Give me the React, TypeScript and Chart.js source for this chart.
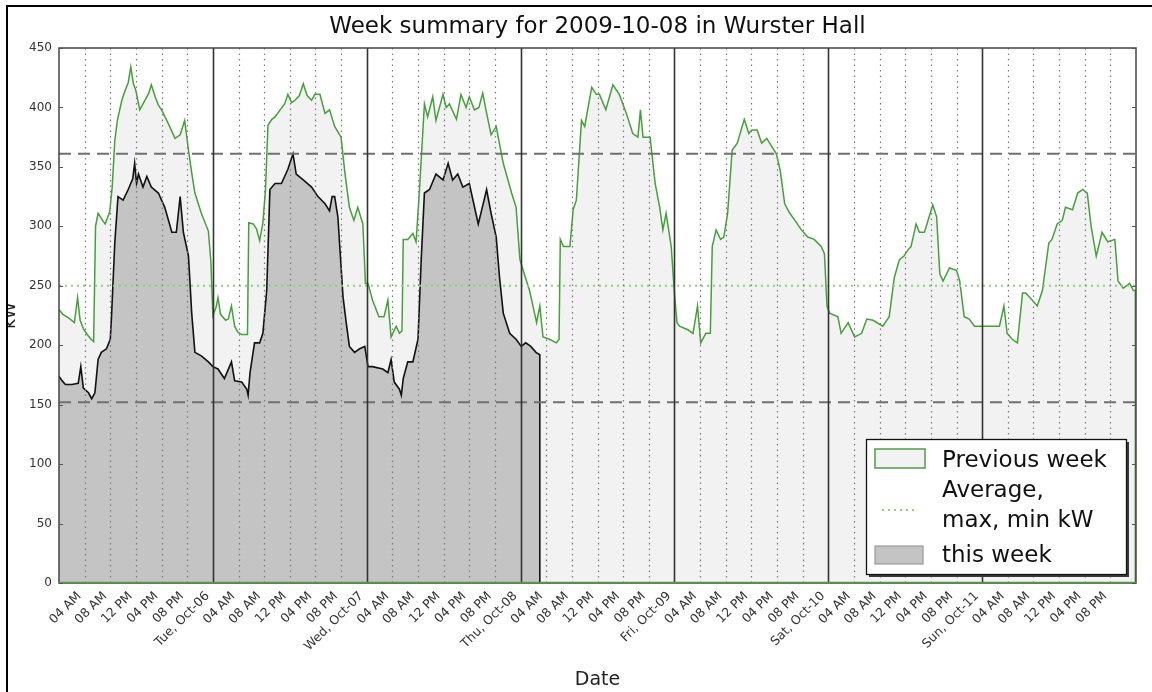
import React, { useEffect, useRef } from 'react';
import { Chart, registerables } from 'chart.js';

Chart.register(...registerables);

type Row = [number, number];

const chartTitle = 'Week summary for 2009-10-08 in Wurster Hall';
const xAxisTitle = 'Date';
const yAxisTitle = 'kW';
const seriesLabels = ['Previous week', 'Average,\nmax, min kW', 'this week'];

const weekHours = 168;
const tickStepHours = 4;
const hourTickLabels = ['04 AM', '08 AM', '12 PM', '04 PM', '08 PM'];
const dayTickLabels = ['', 'Tue, Oct-06', 'Wed, Oct-07', 'Thu, Oct-08', 'Fri, Oct-09', 'Sat, Oct-10', 'Sun, Oct-11', ''];
const yMax = 450;
const yStep = 50;

const avgKw = 250;
const maxKw = 361;
const minKw = 152;

// [hours since Mon 00:00, kW] — previous week
const prevMon: Row[] = [[0,230],[0.6,226],[1.5,223],[2.4,219],[2.9,240],[3.3,221],[3.8,214],[4.4,209],[5,205],[5.4,203],[5.7,300],[6.1,311],[6.8,305],[7.2,302],[7.9,312],[8.3,333],[8.7,372],[9.1,389],[9.8,406],[10.3,414],[10.8,421],[11.2,434],[11.6,420],[12,414],[12.6,398],[13.4,406],[14,412],[14.4,419],[15,409],[15.5,402],[16,398],[17,387],[18.1,374],[18.9,377],[19.6,389],[20.2,364],[20.7,345],[21.2,328],[22.2,311],[23.3,296],[23.7,270],[24,225]];
const prevTue: Row[] = [[24.5,232],[24.8,240],[25.2,226],[26,221],[26.4,222],[26.9,233],[27.4,216],[27.9,211],[28.5,209],[29.4,209],[29.6,303],[30.3,302],[30.8,298],[31.3,288],[31.8,303],[32.2,330],[32.6,385],[33.2,390],[33.7,392],[34.5,398],[35.2,403],[35.7,411],[36.3,404],[36.8,406],[37.5,410],[38.1,420],[38.7,410],[39.4,406],[39.9,411],[40.7,411],[41.5,395],[42.2,398],[43,384],[44,375],[44.6,345],[45.3,316],[46,305],[46.6,316],[47.4,302],[47.8,252]];
const prevWed: Row[] = [[48.2,252],[48.9,238],[49.9,224],[50.7,224],[51.3,238],[51.8,207],[52.6,216],[53.1,210],[53.5,212],[53.7,289],[54.4,289],[55.2,294],[55.7,287],[56.2,328],[57,403],[57.5,392],[58.3,409],[58.8,389],[59.9,411],[60.4,400],[60.9,403],[62,390],[62.7,411],[63.5,400],[64,409],[64.8,398],[65.5,400],[66.1,412],[66.6,398],[67.4,377],[68.2,384],[69.3,353],[70.6,328],[71.3,316],[71.9,272]];
const prevThu: Row[] = [[72.4,263],[73.4,246],[74.5,219],[75,233],[75.5,207],[76.5,205],[77.6,202],[78,205],[78.2,289],[78.7,283],[79.7,283],[80.2,314],[80.7,322],[81.5,389],[82,384],[83.1,417],[83.8,411],[84.3,411],[85.3,398],[86.4,419],[87.4,411],[88.5,395],[89.5,378],[90.3,375],[90.7,398],[91.1,375],[92.2,375],[93,336],[93.7,316],[94.2,297],[94.7,311],[95.5,283],[96,244]];
const prevFri: Row[] = [[96.4,219],[96.8,216],[98.1,213],[98.9,210],[99.6,233],[100.1,202],[100.9,210],[101.6,210],[101.9,283],[102.5,297],[103.2,289],[103.7,291],[104.3,311],[105,364],[105.8,370],[106.9,390],[107.6,378],[108.1,381],[108.9,381],[109.6,370],[110.4,374],[111.2,367],[111.9,361],[112.5,347],[113.2,319],[114,311],[114.8,305],[115.8,297],[116.8,291],[117.8,289],[118.9,283],[119.4,277],[119.8,233]];
const prevSat: Row[] = [[120.2,227],[121.5,224],[122,210],[123.1,219],[124.1,207],[125.2,210],[126,222],[127,221],[128.5,216],[129.5,224],[130.3,257],[131.1,272],[131.8,275],[132.4,280],[132.9,283],[133.7,302],[134.2,295],[135,295],[135.9,311],[136.3,318],[136.9,308],[137.4,260],[137.9,254],[138.9,265],[140,263],[140.5,254],[141.2,224],[142,222],[142.8,216],[144,216]];
const prevSun: Row[] = [[146.7,216],[147.4,233],[147.9,210],[148.7,205],[149.5,202],[150.3,244],[150.8,244],[151.8,238],[152.6,233],[153.4,246],[154.4,286],[154.9,289],[155.7,302],[156.5,305],[157,316],[158.1,314],[158.9,328],[159.7,331],[160.4,328],[161,300],[161.8,275],[162.7,295],[163.6,287],[164.7,289],[165.2,254],[166,248],[167,252],[167.6,246],[167.9,246]];

// [hours since Mon 00:00, kW] — this week
const thisMon: Row[] = [[0,174],[0.5,170],[1,167],[2,167],[3,168],[3.4,182],[3.8,164],[4.6,160],[5.1,155],[5.6,160],[6.1,188],[6.6,194],[7.4,197],[8,205],[8.2,225],[8.7,286],[9.2,325],[10,322],[10.8,331],[11.5,340],[11.8,353],[12.1,336],[12.4,344],[13.1,333],[13.7,342],[14.4,333],[15.5,328],[16.5,316],[17.6,295],[18.3,295],[18.9,325],[19.4,295],[20.2,275],[20.7,227],[21.2,194],[22.2,191],[23.3,186],[24,182]];
const thisTue: Row[] = [[24.8,180],[25.8,172],[26.9,186],[27.4,170],[28.5,169],[29.3,163],[29.5,158],[29.8,177],[30.5,202],[31.3,202],[31.8,210],[32.4,246],[32.9,331],[33.7,336],[34.7,336],[35.7,348],[36.5,361],[37,344],[38.1,339],[39.4,333],[40.4,325],[41.5,319],[42.2,313],[42.6,325],[43,325],[43.5,308],[44.3,241],[44.8,219],[45.3,199],[46.1,194],[46.9,197],[47.7,199],[48.2,182]];
const thisWed: Row[] = [[48.9,182],[50.5,180],[51.3,177],[51.8,188],[52.3,169],[53.1,163],[53.4,158],[53.7,172],[54.4,186],[55.2,186],[56,205],[56.5,272],[57,328],[57.8,331],[58.8,344],[59.9,339],[60.7,353],[61.4,339],[62.2,344],[63,333],[64,336],[65.4,302],[65.9,313],[66.7,331],[67.4,311],[68.2,291],[68.7,258],[69.3,227],[70.3,210],[71.3,205],[72.1,199]];
const thisThu: Row[] = [[72.8,202],[73.6,199],[74.4,194],[75,192]];

const FONT = '"DejaVu Sans", "Liberation Sans", sans-serif';

const xTickHours: number[] = [];
for (let h = 0; h <= weekHours; h += tickStepHours) xTickHours.push(h);

function xTickLabel(h: number): string {
  if (h % 24 === 0) return dayTickLabels[h / 24] || '';
  return hourTickLabels[(h % 24) / tickStepHours - 1] || '';
}

// polygon closed down to zero at the last sample, as the fill in the original
function closedPoints(rows: Row[]) {
  const pts = rows.map(([h, v]) => ({ x: h, y: v }));
  pts.push({ x: rows[rows.length - 1][0], y: 0 });
  return pts;
}

function flatLine(v: number) {
  return [{ x: 0, y: v }, { x: weekHours, y: v }];
}

const decorPlugin = {
  id: 'decor',
  afterDraw(chart: any) {
    const { ctx, chartArea: a } = chart;
    const x = chart.scales.x;
    const y = chart.scales.y;
    ctx.save();

    // vertical grid: dotted every 4 h, solid at midnight
    for (const t of x.ticks) {
      if (t.value <= x.min || t.value >= x.max) continue;
      const px = Math.round(x.getPixelForValue(t.value)) + 0.5;
      const day = t.value % 24 === 0;
      ctx.beginPath();
      ctx.setLineDash(day ? [] : [1.5, 4]);
      ctx.lineWidth = day ? 1.6 : 1.2;
      ctx.strokeStyle = day ? '#333' : '#7a7a7a';
      ctx.moveTo(px, a.top);
      ctx.lineTo(px, a.bottom);
      ctx.stroke();
    }
    ctx.setLineDash([]);

    // axes frame
    ctx.strokeStyle = '#444';
    ctx.lineWidth = 1.5;
    ctx.strokeRect(a.left, a.top, a.right - a.left, a.bottom - a.top);
    ctx.beginPath();
    ctx.strokeStyle = '#4f9a45';
    ctx.moveTo(a.left, a.bottom - 0.5);
    ctx.lineTo(a.right, a.bottom - 0.5);
    ctx.stroke();

    // inward y tick marks on both sides
    ctx.strokeStyle = '#555';
    ctx.lineWidth = 1;
    for (const t of y.ticks) {
      const py = Math.round(y.getPixelForValue(t.value)) + 0.5;
      ctx.beginPath();
      ctx.moveTo(a.left, py); ctx.lineTo(a.left + 4, py);
      ctx.moveTo(a.right - 4, py); ctx.lineTo(a.right, py);
      ctx.stroke();
    }

    // rotated x tick labels
    ctx.font = `12.5px ${FONT}`;
    ctx.fillStyle = '#333';
    ctx.textAlign = 'right';
    ctx.textBaseline = 'alphabetic';
    for (const t of x.ticks) {
      const label = xTickLabel(t.value);
      if (!label) continue;
      const px = x.getPixelForValue(t.value);
      ctx.save();
      ctx.translate(px - 3, a.bottom + 13.5);
      ctx.rotate(-Math.PI / 4);
      ctx.fillText(label, 0, 0);
      ctx.restore();
    }

    // title centred over the axes
    ctx.font = `23px ${FONT}`;
    ctx.fillStyle = '#111';
    ctx.textAlign = 'center';
    ctx.fillText(chartTitle, (a.left + a.right) / 2, a.top - 15);

    // legend with shadow
    const lw = 260, lh = 135;
    const lx = a.right - 10 - lw, ly = a.bottom - 9 - lh;
    ctx.fillStyle = '#3a3a3a';
    ctx.fillRect(lx + 3, ly + 3, lw, lh);
    ctx.fillStyle = '#fff';
    ctx.fillRect(lx, ly, lw, lh);
    ctx.strokeStyle = '#111';
    ctx.lineWidth = 1.3;
    ctx.strokeRect(lx + 0.5, ly + 0.5, lw, lh);

    ctx.fillStyle = '#f2f2f2';
    ctx.fillRect(lx + 9, ly + 10, 50, 19);
    ctx.strokeStyle = '#4f9a45';
    ctx.lineWidth = 1.5;
    ctx.strokeRect(lx + 9, ly + 10, 50, 19);

    ctx.beginPath();
    ctx.setLineDash([2, 4]);
    ctx.strokeStyle = '#8fcf80';
    ctx.lineWidth = 2;
    ctx.moveTo(lx + 16, ly + 71);
    ctx.lineTo(lx + 52, ly + 71);
    ctx.stroke();
    ctx.setLineDash([]);

    ctx.fillStyle = '#c4c4c4';
    ctx.fillRect(lx + 9, ly + 107, 48, 18);
    ctx.strokeStyle = '#9a9a9a';
    ctx.lineWidth = 1.2;
    ctx.strokeRect(lx + 9, ly + 107, 48, 18);

    ctx.font = `23px ${FONT}`;
    ctx.fillStyle = '#111';
    ctx.textAlign = 'left';
    const tx = lx + 76;
    ctx.fillText(seriesLabels[0], tx, ly + 27.7);
    const avgLines = seriesLabels[1].split('\n');
    ctx.fillText(avgLines[0], tx, ly + 58.3);
    ctx.fillText(avgLines[1], tx, ly + 88.3);
    ctx.fillText(seriesLabels[2], tx, ly + 122.7);

    ctx.restore();
  },
};

export default function App() {
  const ref = useRef<HTMLCanvasElement | null>(null);

  useEffect(() => {
    if (!ref.current) return;
    const prevWeek = [...prevMon, ...prevTue, ...prevWed, ...prevThu, ...prevFri, ...prevSat, ...prevSun];
    const thisWeek = [...thisMon, ...thisTue, ...thisWed, ...thisThu];

    const chart = new Chart(ref.current, {
      type: 'line',
      data: {
        datasets: [
          {
            label: seriesLabels[0],
            data: closedPoints(prevWeek),
            borderColor: '#45a03a',
            borderWidth: 1.5,
            backgroundColor: '#f2f2f2',
            fill: 'origin',
            pointRadius: 0,
            tension: 0,
            order: 10,
          },
          {
            label: seriesLabels[2],
            data: closedPoints(thisWeek),
            borderColor: '#111',
            borderWidth: 1.6,
            backgroundColor: '#c4c4c4',
            fill: 'origin',
            pointRadius: 0,
            tension: 0,
            order: 9,
          },
          {
            label: seriesLabels[1],
            data: flatLine(avgKw),
            borderColor: '#8fcf80',
            borderWidth: 2,
            borderDash: [2, 4],
            fill: false,
            pointRadius: 0,
            order: 3,
          },
          {
            label: 'max',
            data: flatLine(maxKw),
            borderColor: '#707070',
            borderWidth: 2,
            borderDash: [12, 7],
            fill: false,
            pointRadius: 0,
            order: 2,
          },
          {
            label: 'min',
            data: flatLine(minKw),
            borderColor: '#707070',
            borderWidth: 2,
            borderDash: [12, 7],
            fill: false,
            pointRadius: 0,
            order: 1,
          },
        ],
      },
      options: {
        responsive: false,
        maintainAspectRatio: false,
        animation: false,
        layout: { padding: { left: 0, right: 16, top: 48, bottom: 0 } },
        plugins: {
          legend: { display: false },
          tooltip: { enabled: false },
          title: { display: false },
        },
        scales: {
          x: {
            type: 'linear',
            min: 0,
            max: weekHours,
            afterBuildTicks: (s: any) => {
              s.ticks = xTickHours.map((v) => ({ value: v }));
            },
            ticks: { display: false },
            grid: { display: false, drawTicks: false },
            border: { display: false },
            title: {
              display: true,
              text: xAxisTitle,
              color: '#222',
              font: { family: FONT, size: 19 },
              padding: { top: 0, bottom: 1 },
            },
            afterFit: (s: any) => {
              s.height = 109;
            },
          },
          y: {
            type: 'linear',
            min: 0,
            max: yMax,
            ticks: {
              stepSize: yStep,
              color: '#333',
              font: { family: FONT, size: 12 },
              padding: 7,
            },
            grid: { display: false, drawTicks: false },
            border: { display: false },
            title: {
              display: true,
              text: yAxisTitle,
              color: '#222',
              font: { family: FONT, size: 17 },
              padding: { top: 0, bottom: 0 },
            },
            afterFit: (s: any) => {
              s.width = 59;
            },
          },
        },
      },
      plugins: [decorPlugin],
    } as any);

    return () => chart.destroy();
  }, []);

  return (
    <div style={{ position: 'fixed', left: 0, top: 0, width: 1152, height: 692, background: '#fff', overflow: 'hidden' }}>
      <canvas ref={ref} width={1152} height={692} style={{ display: 'block' }} />
      <div style={{ position: 'absolute', left: 0, top: 0, width: 6, height: 692, background: '#fff' }} />
      <div
        style={{
          position: 'absolute',
          left: 6,
          top: 5,
          right: 0,
          bottom: 0,
          borderLeft: '2.5px solid #000',
          borderTop: '2px solid #000',
          pointerEvents: 'none',
        }}
      />
    </div>
  );
}
